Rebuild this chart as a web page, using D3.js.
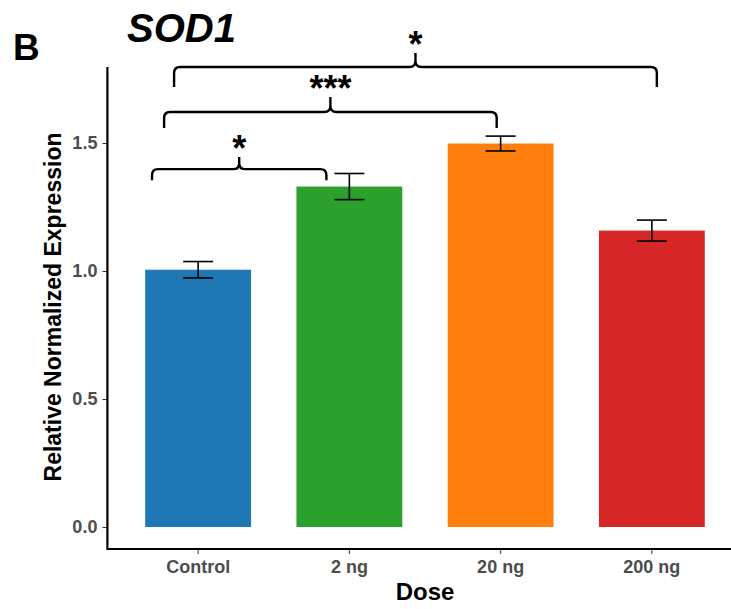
<!DOCTYPE html>
<meta charset="utf-8">
<html>
<head>
  <script src="https://d3js.org/d3.v7.min.js" charset="utf-8"></script>
</head>
<style>
* { font-family: "Liberation Sans", Arial, sans-serif; }
body { margin: 0; background-color: white; }
.tick text { fill: #4d4d4d; font-weight: bold; font-size: 18px; }
.tick line { stroke: #333; }
.label { text-anchor: middle; font-weight: bold; fill: black; }
</style>
<body>
<div id="container"></div>
<script type="text/javascript">

// data
var doses = ["Control", "2 ng", "20 ng", "200 ng"];
var means = [1.005, 1.330, 1.498, 1.158];
var errors = [0.032, 0.051, 0.029, 0.041];
var colors = ["#1f77b4", "#2ca02c", "#ff7f0e", "#d62728"];
var yTicks = [0.0, 0.5, 1.0, 1.5];

// significance brackets: from/to in category units, y levels in data units
var sigFrom = [-0.305, -0.225, -0.159];
var sigTo = [0.848, 1.974, 3.033];
var sigLine = [1.398, 1.621, 1.797];
var sigLeg = [1.355, 1.559, 1.719];
var sigPeak = [1.445, 1.680, 1.852];
var sigLabel = ["*", "***", "*"];

var width = 731;
var height = 609;
var margin = {left: 107.4, top: 67, bottom: 60, right: -11.6};

var svg = d3.select("#container")
            .append("svg")
            .attr("width", width)
            .attr("height", height);

var xScale = d3.scaleBand()
               .domain(doses)
               .range([margin.left, width - margin.right])
               .paddingInner(0.3)
               .paddingOuter(0.25);

var yScale = d3.scaleLinear()
               .domain([-0.086, 1.797])
               .range([height - margin.bottom, margin.top]);

var step = xScale.step();
var center = function(i) { return xScale(doses[0]) + xScale.bandwidth() / 2 + i * step; };

// bars
svg.selectAll("rect.bar")
   .data(doses)
   .enter()
   .append("rect")
   .attr("class", "bar")
   .attr("x", (d) => xScale(d))
   .attr("y", (d, i) => yScale(means[i]))
   .attr("width", xScale.bandwidth())
   .attr("height", (d, i) => yScale(0) - yScale(means[i]))
   .attr("fill", (d, i) => colors[i]);

// error bars
var capHalf = 15;
var eb = svg.selectAll("g.err")
   .data(doses)
   .enter()
   .append("g")
   .attr("class", "err")
   .attr("stroke", "black")
   .attr("stroke-width", 1.6);

eb.append("line")
  .attr("x1", (d) => xScale(d) + xScale.bandwidth() / 2)
  .attr("x2", (d) => xScale(d) + xScale.bandwidth() / 2)
  .attr("y1", (d, i) => yScale(means[i] - errors[i]))
  .attr("y2", (d, i) => yScale(means[i] + errors[i]));
eb.append("line")
  .attr("x1", (d) => xScale(d) + xScale.bandwidth() / 2 - capHalf)
  .attr("x2", (d) => xScale(d) + xScale.bandwidth() / 2 + capHalf)
  .attr("y1", (d, i) => yScale(means[i] + errors[i]))
  .attr("y2", (d, i) => yScale(means[i] + errors[i]));
eb.append("line")
  .attr("x1", (d) => xScale(d) + xScale.bandwidth() / 2 - capHalf)
  .attr("x2", (d) => xScale(d) + xScale.bandwidth() / 2 + capHalf)
  .attr("y1", (d, i) => yScale(means[i] - errors[i]))
  .attr("y2", (d, i) => yScale(means[i] - errors[i]));

// axes
var xAxis = d3.axisBottom(xScale).tickSize(5).tickPadding(6);
var yAxis = d3.axisLeft(yScale).tickValues(yTicks).tickFormat(d3.format(".1f")).tickSize(5).tickPadding(5);

var gx = svg.append("g")
   .attr("transform", "translate(0," + (height - margin.bottom) + ")")
   .call(xAxis);
gx.select(".domain").remove();
gx.append("line")
  .attr("x1", margin.left).attr("x2", width)
  .attr("stroke", "black").attr("stroke-width", 2.2);

var gy = svg.append("g")
   .attr("transform", "translate(" + margin.left + ",0)")
   .call(yAxis);
gy.select(".domain").remove();
gy.append("line")
  .attr("y1", margin.top).attr("y2", height - margin.bottom + 1.1)
  .attr("stroke", "black").attr("stroke-width", 2.2);

// significance brackets
var r = 6;
sigFrom.forEach(function(f, i) {
    var x1 = center(f), x2 = center(sigTo[i]), xc = (x1 + x2) / 2;
    var yh = yScale(sigLine[i]), yb = yScale(sigLeg[i]), yt = yScale(sigPeak[i]);
    var p = d3.path();
    p.moveTo(x1, yb);
    p.lineTo(x1, yh + r);
    p.quadraticCurveTo(x1, yh, x1 + r, yh);
    p.lineTo(xc - r, yh);
    p.quadraticCurveTo(xc, yh, xc, yh - r);
    p.lineTo(xc, yt);
    p.moveTo(xc, yh - r);
    p.quadraticCurveTo(xc, yh, xc + r, yh);
    p.lineTo(x2 - r, yh);
    p.quadraticCurveTo(x2, yh, x2, yh + r);
    p.lineTo(x2, yb);
    svg.append("path")
       .attr("d", p.toString())
       .attr("fill", "none")
       .attr("stroke", "black")
       .attr("stroke-width", 2.4);
    svg.append("text")
       .attr("x", xc)
       .attr("y", yt + 4)
       .attr("text-anchor", "middle")
       .attr("font-weight", "bold")
       .attr("font-size", "36px")
       .text(sigLabel[i]);
});

// labels
svg.append("text")
   .attr("class", "label")
   .attr("x", margin.left + (width - margin.left - margin.right) / 2)
   .attr("y", 600)
   .attr("font-size", "24px")
   .text("Dose");

svg.append("text")
   .attr("class", "label")
   .attr("transform", "rotate(-90)")
   .attr("x", -307)
   .attr("y", 61)
   .attr("font-size", "23px")
   .text("Relative Normalized Expression");

svg.append("text")
   .attr("x", 13)
   .attr("y", 60)
   .attr("font-weight", "bold")
   .attr("font-size", "37px")
   .text("B");

svg.append("text")
   .attr("x", 127)
   .attr("y", 42)
   .attr("font-weight", "bold")
   .attr("font-style", "italic")
   .attr("font-size", "40px")
   .text("SOD1");

</script>
</body>
</html>
